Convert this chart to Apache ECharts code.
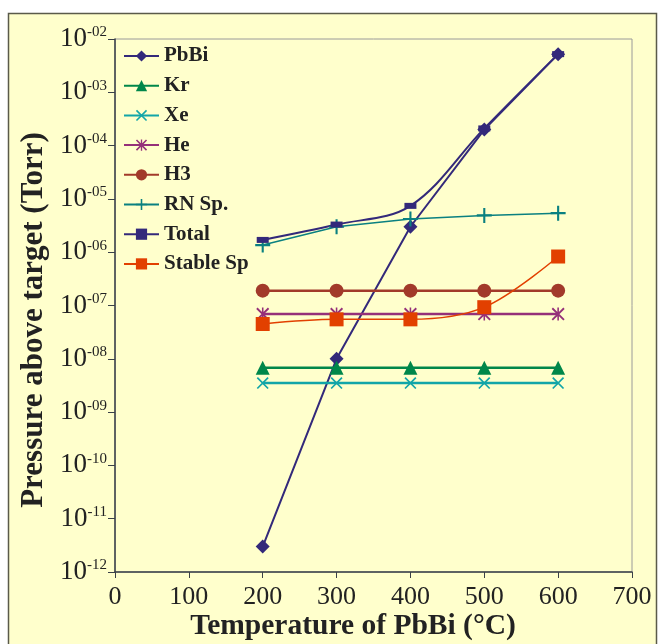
<!DOCTYPE html>
<html>
<head>
<meta charset="utf-8">
<script src="https://cdn.jsdelivr.net/npm/echarts@6/dist/echarts.min.js"></script>
<style>
  html, body { margin: 0; padding: 0; background: #ffffff; }
  #main { width: 658px; height: 644px; }
</style>
</head>
<body>
<div id="main"></div>
<script>
// temperatures (°C) and pressures (Torr)
const temps = [200, 300, 400, 500, 600]
const pbbi = [3e-12, 1e-8, 3e-6, 2e-4, 5.2e-3]
const kr = [6.8e-9, 6.8e-9, 6.8e-9, 6.8e-9, 6.8e-9]
const xe = [3.5e-9, 3.5e-9, 3.5e-9, 3.5e-9, 3.5e-9]
const he = [6.9e-8, 6.9e-8, 6.9e-8, 6.9e-8, 6.9e-8]
const h3 = [1.9e-7, 1.9e-7, 1.9e-7, 1.9e-7, 1.9e-7]
const rnSp = [1.36e-6, 3.0e-6, 4.2e-6, 4.9e-6, 5.4e-6]
const total = [1.7e-6, 3.3e-6, 7.4e-6, 2.1e-4, 5.2e-3]
const stableSp = [4.5e-8, 5.5e-8, 5.5e-8, 9.3e-8, 8.3e-7]

const FONT = "'Liberation Serif', 'DejaVu Serif', serif"

// marker shapes
const plusPath = 'path://M4.3,0H5.7V4.3H10V5.7H5.7V10H4.3V5.7H0V4.3H4.3Z'
const crossPath = 'path://M0,1L1,0L10,9L9,10ZM9,0L10,1L1,10L0,9Z'
const starPath = 'path://M0,1L1,0L10,9L9,10ZM9,0L10,1L1,10L0,9ZM4.4,0H5.6V10H4.4Z'

const pts = arr => temps.map((t, i) => [t, arr[i]])

function makeSerie(name, arr, color, symbol, size, width, smooth) {
    return {
        name: name,
        type: 'line',
        data: pts(arr),
        symbol: symbol,
        symbolSize: size,
        smooth: smooth || false,
        showAllSymbol: true,
        lineStyle: {color: color, width: width},
        itemStyle: {color: color},
        emphasis: {disabled: true}
    }
}

const series = [
    makeSerie('PbBi', pbbi, '#33297a', 'diamond', 14, 2),
    makeSerie('Kr', kr, '#00874a', 'triangle', 14, 2.5),
    makeSerie('Xe', xe, '#12a5a8', crossPath, 12, 2.5),
    makeSerie('He', he, '#953079', starPath, 13, 2.5),
    makeSerie('H3', h3, '#a23a2a', 'circle', 14, 2.5),
    makeSerie('RN Sp.', rnSp, '#0a8080', plusPath, 15, 1.5),
    makeSerie('Total', total, '#33297a', 'rect', [12, 6], 2, 0.35),
    makeSerie('Stable Sp', stableSp, '#e24000', 'rect', 14, 1.5, 0.35)
]

const chart = echarts.init(document.getElementById('main'), null, {renderer: 'canvas'})

chart.setOption({
    backgroundColor: '#ffffff',
    animation: false,
    textStyle: {fontFamily: FONT},
    graphic: [
        {
            type: 'rect',
            z: -10,
            shape: {x: 8.5, y: 13.5, width: 648, height: 640},
            style: {fill: '#ffffcc', stroke: '#5a5a4a', lineWidth: 1.5}
        },
        {
            type: 'text',
            x: 34, y: 320,
            rotation: Math.PI / 2,
            style: {
                text: 'Pressure above target (Torr)',
                font: "bold 31px 'Liberation Serif'",
                fill: '#222222',
                align: 'center',
                verticalAlign: 'middle'
            }
        },
        {
            type: 'text',
            x: 353, y: 626,
            style: {
                text: 'Temperature of PbBi (°C)',
                font: "bold 29.5px 'Liberation Serif'",
                fill: '#222222',
                align: 'center',
                verticalAlign: 'middle'
            }
        }
    ],
    grid: {
        left: 115, top: 39, width: 517, height: 533,
        show: true,
        backgroundColor: 'transparent',
        borderColor: '#9a9a9a',
        borderWidth: 1
    },
    legend: {
        orient: 'vertical',
        left: 123, top: 45,
        padding: 0,
        itemWidth: 35, itemHeight: 14,
        itemGap: 7.7,
        data: series.map(s => s.name),
        textStyle: {fontFamily: FONT, fontWeight: 'bold', fontSize: 21, color: '#222222', lineHeight: 22}
    },
    xAxis: {
        type: 'value',
        min: 0, max: 700, interval: 100,
        splitLine: {show: false},
        axisLine: {lineStyle: {color: '#3a4048', width: 1.5}},
        axisTick: {inside: false, length: 6, lineStyle: {color: '#3a4048'}},
        axisLabel: {fontFamily: FONT, fontSize: 26, color: '#222222', margin: 12}
    },
    yAxis: {
        type: 'log',
        logBase: 10,
        min: 1e-12, max: 1e-2,
        splitLine: {show: false},
        axisLine: {show: true, lineStyle: {color: '#3a4048', width: 1.5}},
        axisTick: {show: true, inside: false, length: 7, lineStyle: {color: '#3a4048'}},
        axisLabel: {
            margin: 8,
            formatter: function (v) {
                const e = Math.round(Math.log10(v))
                const s = (e < 0 ? '-' : '') + String(Math.abs(e)).padStart(2, '0')
                return '{b|10}{s|' + s + '}'
            },
            rich: {
                b: {fontFamily: FONT, fontSize: 27, color: '#222222'},
                s: {fontFamily: FONT, fontSize: 15, color: '#222222', padding: [0, 0, 13, 0]}
            }
        }
    },
    series: series
})
</script>
</body>
</html>
